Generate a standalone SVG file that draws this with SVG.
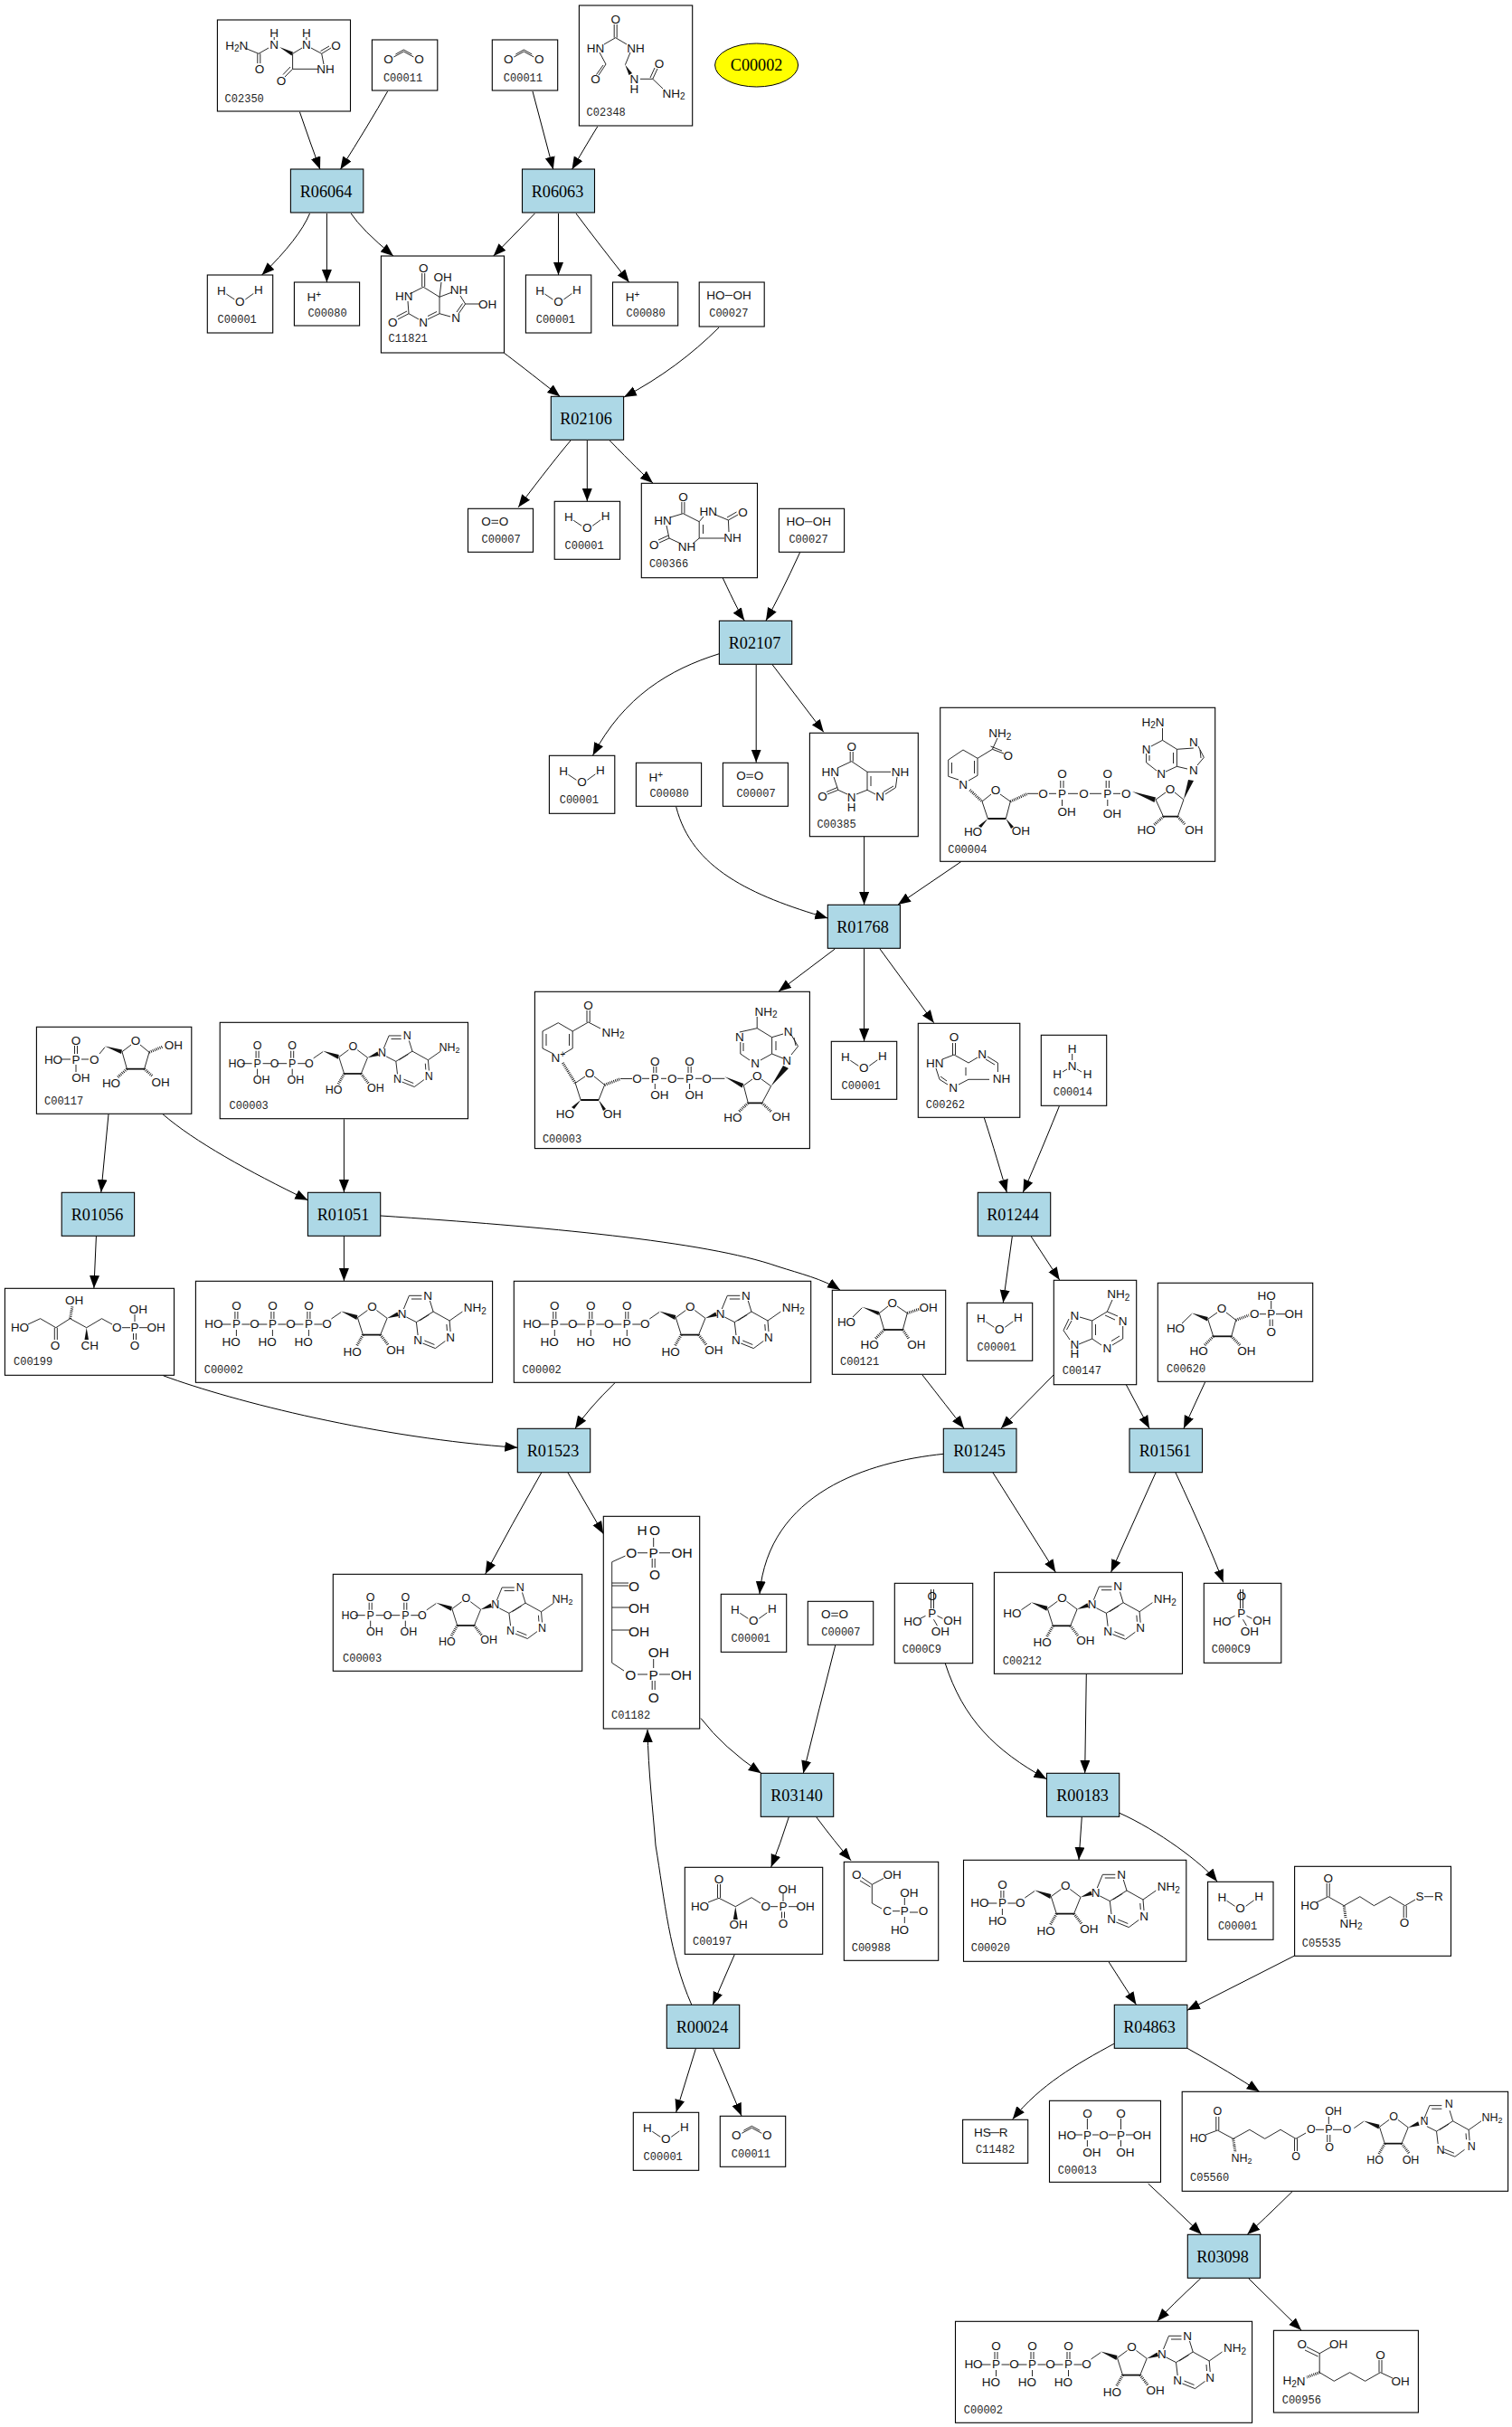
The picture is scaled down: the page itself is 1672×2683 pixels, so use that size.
<svg xmlns="http://www.w3.org/2000/svg" width="1672" height="2683" viewBox="0 0 1672 2683">
<style>
text{font:13.5px "Liberation Sans",Arial,sans-serif;text-anchor:middle;dominant-baseline:central;fill:#111;opacity:.99}
text.c{font:12px "Liberation Mono",monospace;text-anchor:start;dominant-baseline:auto;fill:#222}
text.r{font:18.2px "Liberation Serif",serif;dominant-baseline:auto;fill:#000}
tspan.s{font-size:10px}
.n{fill:#fff;stroke:#000;stroke-width:1.1}
.rx{fill:#ADD8E6;stroke:#000;stroke-width:1.1}
.b{fill:none;stroke:#111;stroke-width:.9}
.k{fill:none;stroke:#111;stroke-width:1.8}
.w{fill:#111;stroke:none}
.h{fill:none;stroke:#111;stroke-width:3;stroke-dasharray:.9 1.2}
.e{fill:none;stroke:#000;stroke-width:1;marker-end:url(#ah)}
.t text{font-size:12.5px}
.t text.c{font-size:12px}
.t tspan.s{font-size:9px}
</style>
<defs>
<marker id="ah" markerUnits="userSpaceOnUse" markerWidth="16" markerHeight="12" refX="14" refY="5.5" orient="auto"><path d="M0,0L14,5.5L0,11z" fill="#000"/></marker>
<path id="h2o" class="b" d="M21,21L30,27M42,27L51,20.5"/>
<path id="co2" class="b" d="M24,19L35,13L46,19M26,16L35,11L44,16"/>
<path id="P" class="b" d="M-1.5,-14V-6M1.5,-14V-6M0,6V13M-17,0H-6M6,0H15"/>
<g id="ado">
<path class="b" d="M5,-6L15.7,-13.4M34,-7.4L45,-15.5M55,-15.5L66.7,-6.7M34,-7.4L40,11.6M59.3,11.6L66.7,-6.7M85,-17L91,-31.7H105M93.5,-28H105M114,-26L117.7,-14L99,-2.4M113,-10.5L102.5,-4M88,-8L99,-2.4L100.7,12M106,21L120,26.6M108,18L119,22.5M120,26.6L131,18.5M136.7,8L135.7,-4M133,7L132.5,0M135.7,-4L117.7,-14M135.7,-4L150,-14"/>
<path class="k" d="M40,11.6H59.3"/>
<path class="w" d="M15.7,-14.4L34,-9.9L33,-5ZM66.7,-6.7L78,-13.5L79.5,-9Z"/>
<path class="h" d="M40,11.6L33,24M59.3,11.6L68,23"/>
</g>
<path id="pi" class="b" d="M40,6.7V28M43,6.7V28M34,36L28,39M47,36L53,39M43,40L47,47"/>
</defs>

<g id="connectors">
<path class="e" d="M331.4,123.7Q343.3,158.5 354,187.3"/>
<path class="e" d="M428.6,101Q408.9,135.8 376.4,187.3"/>
<path class="e" d="M589,101L611.8,187.3"/>
<path class="e" d="M660.7,140Q650.6,156.3 632.5,187.3"/>
<path class="e" d="M342.5,236Q331.2,263.4 289.6,304"/>
<path class="e" d="M361.4,236V312"/>
<path class="e" d="M388.2,236Q399.8,253.9 435,283"/>
<path class="e" d="M591.4,236L545.7,283"/>
<path class="e" d="M617.5,236V304"/>
<path class="e" d="M637,236Q659.4,266 695.7,312"/>
<path class="e" d="M557.5,390.3Q572,401 619.3,438.3"/>
<path class="e" d="M795,362C765,392 730,418 690,439"/>
<path class="e" d="M631,487Q611.9,509.5 573.2,560.7"/>
<path class="e" d="M649.3,487V554"/>
<path class="e" d="M674.3,487Q709,522.9 722,534"/>
<path class="e" d="M799.3,639Q817.3,677.5 823.2,686"/>
<path class="e" d="M884.6,610.7Q862.8,658.2 847,686"/>
<path class="e" d="M795.4,722.7C740,740 690,770 655.6,835"/>
<path class="e" d="M836.2,735V842.7"/>
<path class="e" d="M854.3,735L910.8,809.3"/>
<path class="e" d="M747.7,892C765,960 830,990 915.3,1015"/>
<path class="e" d="M955.6,925V1000"/>
<path class="e" d="M1062.6,952.7L993,1000"/>
<path class="e" d="M923.3,1049L861,1096"/>
<path class="e" d="M955.6,1049V1151"/>
<path class="e" d="M973,1049L1032.7,1130.7"/>
<path class="e" d="M1088.3,1235.7Q1097,1262 1113.3,1318"/>
<path class="e" d="M1171.3,1223Q1142,1295 1131.3,1318"/>
<path class="e" d="M1119.3,1367L1109.3,1440"/>
<path class="e" d="M1140.3,1367L1171.7,1415"/>
<path class="e" d="M1165,1520L1107,1579"/>
<path class="e" d="M1245.3,1530.7L1271,1579"/>
<path class="e" d="M1332.7,1527.7L1309,1579"/>
<path class="e" d="M1020,1520Q1048,1556 1066,1579"/>
<path class="e" d="M421,1344C600,1356 780,1372 860,1400C885,1408 910,1414 929,1426"/>
<path class="e" d="M120,1231.7L111.8,1318"/>
<path class="e" d="M180,1231.7C215,1262 275,1295 340.4,1326.7"/>
<path class="e" d="M380.4,1237.3V1318"/>
<path class="e" d="M106.4,1366.7L103.9,1424"/>
<path class="e" d="M380.4,1366.7V1416"/>
<path class="e" d="M180.4,1520.7C260,1550 420,1590 572.3,1600.3"/>
<path class="e" d="M680,1528.7Q650,1558 636,1579.3"/>
<path class="e" d="M598.7,1628Q566,1685 536.7,1740"/>
<path class="e" d="M628,1628L667.3,1695.7"/>
<path class="e" d="M1043.3,1607.3C960,1616 850,1650 840,1762"/>
<path class="e" d="M1098,1628L1167.3,1738"/>
<path class="e" d="M1278,1628L1228.6,1738"/>
<path class="e" d="M1300,1628Q1336,1705 1352.7,1749.3"/>
<path class="e" d="M775,1899.5Q800,1932 841.7,1960.3"/>
<path class="e" d="M923.7,1819Q906,1888 888.3,1960.3"/>
<path class="e" d="M1045.3,1839C1065,1900 1100,1935 1157.3,1966.7"/>
<path class="e" d="M1201.3,1850.7L1199.7,1960"/>
<path class="e" d="M872.3,2008.7Q863,2038 852.7,2064"/>
<path class="e" d="M902.7,2008.7Q923,2036 941,2056.7"/>
<path class="e" d="M1196.3,2008.7L1193,2056"/>
<path class="e" d="M1238,2004.3C1280,2023 1330,2060 1346,2080"/>
<path class="e" d="M812.3,2160.7L788.3,2216"/>
<path class="e" d="M764.7,2216C740,2160 735,2100 725,2040C722,2000 717,1960 716,1912"/>
<path class="e" d="M769.3,2265L747.7,2335"/>
<path class="e" d="M788.7,2265Q803,2298 820,2339"/>
<path class="e" d="M1226.2,2169L1256.4,2216"/>
<path class="e" d="M1431,2162.3L1312.9,2222.3"/>
<path class="e" d="M1231.9,2259.3C1190,2282 1150,2305 1119.8,2342.7"/>
<path class="e" d="M1312.9,2264.3Q1362,2292 1392.7,2312.3"/>
<path class="e" d="M1269.7,2414Q1302,2444 1328.6,2470"/>
<path class="e" d="M1429,2422.7Q1395,2456 1379.4,2470"/>
<path class="e" d="M1327.8,2518.7Q1294,2550 1279.8,2566"/>
<path class="e" d="M1380.6,2518.7L1439,2576"/>
</g>

<g id="C00002-ellipse"><ellipse cx="836.6" cy="72" rx="46" ry="24" fill="#ff0" stroke="#000"/><text class="r" x="836.6" y="78">C00002</text></g>

<g id="R06064"><rect class="rx" x="321.4" y="187" width="80.4" height="48"/><text class="r" x="360.5" y="217.5">R06064</text></g>
<g id="R06063"><rect class="rx" x="577.5" y="187" width="80" height="48"/><text class="r" x="616.5" y="217.5">R06063</text></g>
<g id="R02106"><rect class="rx" x="609.3" y="438.3" width="80.3" height="48"/><text class="r" x="648" y="468.8">R02106</text></g>
<g id="R02107"><rect class="rx" x="795.4" y="686.3" width="80.3" height="48"/><text class="r" x="834.5" y="716.8">R02107</text></g>
<g id="R01768"><rect class="rx" x="915.3" y="1000.3" width="80.1" height="48"/><text class="r" x="954" y="1030.8">R01768</text></g>
<g id="R01056"><rect class="rx" x="68.2" y="1318.3" width="80.4" height="48"/><text class="r" x="107.5" y="1348.8">R01056</text></g>
<g id="R01051"><rect class="rx" x="340.4" y="1318.3" width="80.3" height="48"/><text class="r" x="379.5" y="1348.8">R01051</text></g>
<g id="R01244"><rect class="rx" x="1081.3" y="1318.3" width="80.4" height="48"/><text class="r" x="1120" y="1348.8">R01244</text></g>
<g id="R01523"><rect class="rx" x="572.3" y="1579.3" width="80.4" height="48.4"/><text class="r" x="611.5" y="1610">R01523</text></g>
<g id="R01245"><rect class="rx" x="1043.3" y="1579.3" width="80.7" height="48.4"/><text class="r" x="1083" y="1610">R01245</text></g>
<g id="R01561"><rect class="rx" x="1249" y="1579.3" width="80.5" height="48.4"/><text class="r" x="1288.5" y="1610">R01561</text></g>
<g id="R03140"><rect class="rx" x="841.3" y="1960.3" width="80.4" height="48"/><text class="r" x="881" y="1991">R03140</text></g>
<g id="R00183"><rect class="rx" x="1157.5" y="1960.3" width="80.2" height="48"/><text class="r" x="1197" y="1991">R00183</text></g>
<g id="R00024"><rect class="rx" x="737.3" y="2216.3" width="80.4" height="48"/><text class="r" x="776.5" y="2247">R00024</text></g>
<g id="R04863"><rect class="rx" x="1232.3" y="2216.3" width="80.6" height="48"/><text class="r" x="1271" y="2247">R04863</text></g>
<g id="R03098"><rect class="rx" x="1313.3" y="2470.3" width="80.2" height="48"/><text class="r" x="1352" y="2501">R03098</text></g>

<!-- water -->
<g id="C00001-a" transform="translate(229.3,304)"><rect class="n" width="72.4" height="64"/><use href="#h2o"/><text x="15.7" y="17.5">H</text><text x="36" y="29.5">O</text><text x="56.5" y="16">H</text><text class="c" x="11.3" y="53">C00001</text></g>
<g id="C00001-b" transform="translate(581.4,304)"><rect class="n" width="72.4" height="64"/><use href="#h2o"/><text x="15.7" y="17.5">H</text><text x="36" y="29.5">O</text><text x="56.5" y="16">H</text><text class="c" x="11.3" y="53">C00001</text></g>
<g id="C00001-c" transform="translate(613.2,554.3)"><rect class="n" width="72.4" height="64"/><use href="#h2o"/><text x="15.7" y="17.5">H</text><text x="36" y="29.5">O</text><text x="56.5" y="16">H</text><text class="c" x="11.3" y="53">C00001</text></g>
<g id="C00001-d" transform="translate(607.4,835.3)"><rect class="n" width="72.4" height="64"/><use href="#h2o"/><text x="15.7" y="17.5">H</text><text x="36" y="29.5">O</text><text x="56.5" y="16">H</text><text class="c" x="11.3" y="53">C00001</text></g>
<g id="C00001-e" transform="translate(919.3,1151.3)"><rect class="n" width="72.4" height="64"/><use href="#h2o"/><text x="15.7" y="17.5">H</text><text x="36" y="29.5">O</text><text x="56.5" y="16">H</text><text class="c" x="11.3" y="53">C00001</text></g>
<g id="C00001-f" transform="translate(1069.3,1440.3)"><rect class="n" width="72.4" height="64"/><use href="#h2o"/><text x="15.7" y="17.5">H</text><text x="36" y="29.5">O</text><text x="56.5" y="16">H</text><text class="c" x="11.3" y="53">C00001</text></g>
<g id="C00001-g" transform="translate(797.3,1762.3)"><rect class="n" width="72.4" height="64"/><use href="#h2o"/><text x="15.7" y="17.5">H</text><text x="36" y="29.5">O</text><text x="56.5" y="16">H</text><text class="c" x="11.3" y="53">C00001</text></g>
<g id="C00001-h" transform="translate(1335.6,2080.3)"><rect class="n" width="72.4" height="64"/><use href="#h2o"/><text x="15.7" y="17.5">H</text><text x="36" y="29.5">O</text><text x="56.5" y="16">H</text><text class="c" x="11.3" y="53">C00001</text></g>
<g id="C00001-i" transform="translate(700.3,2335.3)"><rect class="n" width="72.4" height="64"/><use href="#h2o"/><text x="15.7" y="17.5">H</text><text x="36" y="29.5">O</text><text x="56.5" y="16">H</text><text class="c" x="11.3" y="53">C00001</text></g>

<!-- CO2 -->
<g id="C00011-a" transform="translate(411.4,44)"><rect class="n" width="72.4" height="56"/><use href="#co2"/><text x="18" y="21.7">O</text><text x="52" y="21.7">O</text><text class="c" x="12.5" y="45.5">C00011</text></g>
<g id="C00011-b" transform="translate(544.3,44)"><rect class="n" width="72.4" height="56"/><use href="#co2"/><text x="18" y="21.7">O</text><text x="52" y="21.7">O</text><text class="c" x="12.5" y="45.5">C00011</text></g>
<g id="C00011-c" transform="translate(796.3,2339.3)"><rect class="n" width="72.4" height="56"/><use href="#co2"/><text x="18" y="21.7">O</text><text x="52" y="21.7">O</text><text class="c" x="12.5" y="45.5">C00011</text></g>

<!-- H+ -->
<g id="C00080-a" transform="translate(325.4,312)"><rect class="n" width="72.2" height="48"/><text x="22" y="16.5">H<tspan class="s" dy="-4">+</tspan></text><text class="c" x="15" y="38">C00080</text></g>
<g id="C00080-b" transform="translate(677.5,312)"><rect class="n" width="72.2" height="48"/><text x="22" y="16.5">H<tspan class="s" dy="-4">+</tspan></text><text class="c" x="15" y="38">C00080</text></g>
<g id="C00080-c" transform="translate(703.4,843.3)"><rect class="n" width="72.2" height="48"/><text x="22" y="16.5">H<tspan class="s" dy="-4">+</tspan></text><text class="c" x="15" y="38">C00080</text></g>

<!-- O2 -->
<g id="C00007-a" transform="translate(517.5,562.3)"><rect class="n" width="72" height="48"/><path class="b" d="M26,13H33.5M26,16H33.5"/><text x="20" y="14.5">O</text><text x="39.5" y="14.5">O</text><text class="c" x="15" y="38">C00007</text></g>
<g id="C00007-b" transform="translate(799.4,843.3)"><rect class="n" width="72" height="48"/><path class="b" d="M26,13H33.5M26,16H33.5"/><text x="20" y="14.5">O</text><text x="39.5" y="14.5">O</text><text class="c" x="15" y="38">C00007</text></g>
<g id="C00007-c" transform="translate(893.3,1770.3)"><rect class="n" width="72.4" height="48"/><path class="b" d="M26,13H33.5M26,16H33.5"/><text x="20" y="14.5">O</text><text x="39.5" y="14.5">O</text><text class="c" x="15" y="38">C00007</text></g>

<!-- H2O2 -->
<g id="C00027-a" transform="translate(773.2,312)"><rect class="n" width="72" height="49"/><path class="b" d="M28.5,14.5H37"/><text x="18.2" y="14.5">HO</text><text x="47.5" y="14.5">OH</text><text class="c" x="11" y="38">C00027</text></g>
<g id="C00027-b" transform="translate(861.4,562.3)"><rect class="n" width="72.2" height="48"/><path class="b" d="M28.5,14.5H37"/><text x="18.2" y="14.5">HO</text><text x="47.5" y="14.5">OH</text><text class="c" x="11" y="38">C00027</text></g>

<!-- C02350 -->
<g id="C02350"><rect class="n" x="240.4" y="22" width="147.1" height="101"/>
<path class="b" d="M273,54L286,59.3L297,53M323.6,59.3L334,53M344,53L355.7,59.3L366,53M354.5,56.5L364,51M355.7,59.3L358,71M323.6,76.3H352M323.6,59.3V76.3L315,85M321,74L313,82.5M284.8,59.3V70M287.8,59.3V70M303.2,41V44M338.9,41V44"/>
<path class="w" d="M309,52L324,57.5L322.5,61.5Z"/>
<text x="303.2" y="36.7">H</text><text x="303.2" y="49.3">N</text><text x="338.9" y="36.7">H</text><text x="338.9" y="49.3">N</text><text x="371.4" y="50">O</text><text x="360" y="76.3">NH</text><text x="311" y="89">O</text><text x="287" y="76.3">O</text><text x="261.8" y="50">H<tspan class="s" dy="3">2</tspan><tspan dy="-3">N</tspan></text>
<text class="c" x="248.6" y="112.7">C02350</text></g>

<!-- C02348 -->
<g id="C02348"><rect class="n" x="640.4" y="6" width="125.3" height="133"/>
<path class="b" d="M679.2,27V41.7M682.2,27V41.7M680.7,41.7L668,49M680.7,41.7L693,49M663,58L670,71L662,83M667,72L659.5,82.5M697,58L691.4,71.7M708,87.3H721.8L727,76M719,86L724,75M721.8,87.3L733,98"/>
<path class="w" d="M691.4,71.7L699,81L695.5,83Z"/>
<text x="680.7" y="21">O</text><text x="658.6" y="53.3">HN</text><text x="703" y="53.3">NH</text><text x="658.6" y="87.3">O</text><text x="701.4" y="87.3">N</text><text x="701.4" y="98.7">H</text><text x="729" y="70">O</text><text x="745" y="103.3">NH<tspan class="s" dy="3">2</tspan></text>
<text class="c" x="648.6" y="128">C02348</text></g>

<!-- C11821 -->
<g id="C11821"><rect class="n" x="421.4" y="283" width="136.1" height="107"/>
<path class="b" d="M466.7,302V317M469.7,302V317M468.2,317.3L453,325M451,333L452,346.7L440,353M450,344L438.5,350M452,346.7L463,353M473,353L486,346.7M473,349.5L483,344.5M486,346.7V328.3L468.2,317.3M486,328.3L488,312M486,328.3L500,323M509,327L514.6,336L507,347M511.5,335.5L505,345M498,350L486,346.7M514.6,336H530"/>
<text x="468.2" y="296.7">O</text><text x="489.6" y="306.7">OH</text><text x="507.5" y="320.7">NH</text><text x="539" y="336">OH</text><text x="504" y="351.7">N</text><text x="468.2" y="356">N</text><text x="446.8" y="327.3">HN</text><text x="434.3" y="356">O</text>
<text class="c" x="429.6" y="377.7">C11821</text></g>

<!-- C00366 -->
<g id="C00366"><rect class="n" x="709.3" y="534.3" width="128.2" height="104.4"/>
<path class="b" d="M753.9,555V567.7M756.9,555V567.7M755.4,567.7L741,572M737,581L740,595L729,600M739,592L728,597M740,595L753,601M766,601L773.2,595V576.7L755.4,567.7M777.5,590V580M773.2,576.7L778,571M791,569L805.4,575L816,569M804,572L814.5,566M805.4,575L806,588M773.2,595H801"/>
<text x="755.4" y="549">O</text><text x="732.9" y="575">HN</text><text x="783.2" y="565.7">HN</text><text x="821.4" y="566">O</text><text x="810" y="594.3">NH</text><text x="759.6" y="604">NH</text><text x="723.2" y="602.7">O</text>
<text class="c" x="717.9" y="626.7">C00366</text></g>

<!-- C00385 -->
<g id="C00385"><rect class="n" x="895.4" y="810.3" width="119.9" height="114.4"/>
<path class="b" d="M940.2,831V841.7M943.2,831V841.7M941.7,841.7L926,849M922,859L926.8,873.3L915,878M926,870.5L914,875.5M926.8,873.3L937,878M947,878L959,873.3V853.3L941.7,841.7M963,869V858M959,853.3H985M992,859L990.4,870.7L979,878M988,869L977,875.5M968,878L959,873.3"/>
<text x="941.7" y="825">O</text><text x="918.3" y="853.3">HN</text><text x="995.4" y="853.3">NH</text><text x="973" y="880.7">N</text><text x="941.7" y="881.7">N</text><text x="941.7" y="892.7">H</text><text x="909.4" y="880.7">O</text>
<text class="c" x="903.4" y="915">C00385</text></g>

<!-- NADH -->
<g id="C00004"><rect class="n" x="1039.7" y="782.3" width="304" height="170"/>
<path class="b" d="M1060,862L1048.7,858.3V840L1065,829L1081,838.3V857.3L1071,863M1052.5,855V843M1077.5,855V841M1081,838.3L1097.4,828.3L1110,833M1097.4,828.3L1103,816M1095.5,825L1108,830M1086,886L1096,878M1106,878L1117.3,886L1112.3,905M1086,886L1092.4,905M1136,877.3H1148M1172.8,863V871M1176,863V871M1174.5,884V891M1160,877.3H1168M1181,877.3H1192M1205,877.3H1218M1223.2,863V871M1226.4,863V871M1224.8,884V891M1231,877.3H1239M1278,884L1289,876M1299,876L1308.9,884L1302.4,902.7M1278,884L1286.5,902.7M1319.8,827L1301.4,828.3M1325,825L1331.3,837.3L1324,846M1327,829L1328,838M1301.4,828.3V847.3L1313,850M1297.5,832V844M1301.4,828.3L1285.5,818.3L1273,825M1285.5,818.3V805M1267.6,833V843L1279,852M1289,853L1301.4,847.3M1271,835V841"/>
<path class="k" d="M1092.4,905H1112.3M1286.5,902.7H1302.4"/>
<path class="h" d="M1072.5,873.3L1086,886M1117.3,886L1136,877.5M1286.5,902.7L1276,912M1302.4,902.7L1311,912"/>
<path class="w" d="M1092.4,905L1085,915L1082,913ZM1112.3,905L1121,914L1118,916ZM1252,875L1278,881.5L1276.5,887ZM1308.9,884L1314,862L1320,863Z"/>
<text x="1105.9" y="810.7">NH<tspan class="s" dy="3">2</tspan></text><text x="1114.8" y="835">O</text><text x="1065" y="867.3">N</text><text x="1100.9" y="873.3">O</text><text x="1076" y="919.3">HO</text><text x="1128.8" y="918.3">OH</text><text x="1153.6" y="877.3">O</text><text x="1174.5" y="877.3">P</text><text x="1174.5" y="855">O</text><text x="1179.5" y="897.7">OH</text><text x="1198.4" y="877.3">O</text><text x="1224.8" y="877.3">P</text><text x="1224.8" y="855">O</text><text x="1229.8" y="899">OH</text><text x="1245.2" y="877.3">O</text><text x="1294" y="872.7">O</text><text x="1267.6" y="917.3">HO</text><text x="1320.3" y="917.3">OH</text><text x="1319.8" y="851.7">N</text><text x="1319.8" y="820.7">N</text><text x="1267.6" y="828.3">N</text><text x="1284" y="855.7">N</text><text x="1275" y="798.3">H<tspan class="s" dy="3">2</tspan><tspan dy="-3">N</tspan></text>
<text class="c" x="1048.2" y="943">C00004</text></g>

<!-- NAD+ -->
<g id="C00003-nad"><rect class="n" x="591.4" y="1096.3" width="304" height="173.3"/>
<path class="b" d="M612,1165L600,1159V1140L617.3,1130.7L633.2,1140V1159L623,1165M604,1156V1143M629.5,1156V1143M633.2,1140L650.6,1130L664,1137M649,1117V1130M652.2,1117V1130M636.2,1197.3L647,1190M657,1190L668.6,1199.3L662,1216M636.2,1197.3L642.2,1216M686,1192.5H699M710,1192.3H718M731,1192.3H737M722.8,1179V1186M725.8,1179V1186M724.3,1198V1204M749,1192.3H756M769,1192.3H776M761,1179V1186M764.2,1179V1186M762.6,1198V1204M787,1192.3H801.4M822.3,1200L832,1193M842,1193L852.6,1200.7L842.7,1219.3M822.3,1200L827.3,1219.3M817.8,1141L837.2,1136.7L853.6,1146.7L866,1143M837.2,1136.7V1124M853.6,1146.7V1165L866,1170M858,1151V1161M875,1144L882.5,1156.7L875,1166M878,1147L880,1156M853.6,1165L841,1172M829,1172L818.8,1165V1152M822,1162V1153"/>
<path class="w" d="M801.4,1190.3L822.3,1198L820.5,1202.5ZM852.6,1200.7L866,1178L872,1181Z"/>
<path class="w" d="M642.2,1216L635,1226L632,1224ZM662,1216L670,1226L667,1228Z"/>
<path class="k" d="M642.2,1216H662M827.3,1219.3H842.7"/>
<path class="h" d="M622.3,1175L636.2,1197.3M668.6,1199.3L686,1192.7M827.3,1219.3L817,1229M842.7,1219.3L853,1229"/>
<text x="650.6" y="1111">O</text><text x="678" y="1141">NH<tspan class="s" dy="3">2</tspan></text><text x="617.3" y="1169.3">N<tspan class="s" dy="-4">+</tspan></text><text x="652" y="1186">O</text><text x="624.8" y="1231.7">HO</text><text x="677" y="1231.7">OH</text><text x="704.4" y="1192.3">O</text><text x="724.3" y="1192.3">P</text><text x="724.3" y="1173.3">O</text><text x="729.3" y="1210.7">OH</text><text x="743.2" y="1192.3">O</text><text x="762.6" y="1192.3">P</text><text x="762.6" y="1173.3">O</text><text x="767.6" y="1210.7">OH</text><text x="781.5" y="1192.3">O</text><text x="837.2" y="1189.3">O</text><text x="810.3" y="1235">HO</text><text x="863.6" y="1234">OH</text><text x="870" y="1172.7">N</text><text x="871.5" y="1140">N</text><text x="817.8" y="1146.7">N</text><text x="835.2" y="1175">N</text><text x="847" y="1118.3">NH<tspan class="s" dy="3">2</tspan></text>
<text class="c" x="599.9" y="1263">C00003</text></g>

<!-- C00262 -->
<g id="C00262"><rect class="n" x="1015.3" y="1131.3" width="112.5" height="104"/>
<path class="b" d="M1053.5,1153V1166M1056.5,1153V1166M1055,1166L1042,1171M1055,1166L1071,1175L1081,1169M1092,1168L1103.4,1175V1185M1090,1171L1100,1177M1068,1180V1189M1071,1193.3H1094M1071,1193.3L1060,1199M1048,1199L1039,1193.3L1035,1181M1047,1195L1040,1190"/>
<text x="1055" y="1146.7">O</text><text x="1033.7" y="1175">HN</text><text x="1086" y="1165">N</text><text x="1107.4" y="1192.3">NH</text><text x="1054" y="1202.7">N</text>
<text class="c" x="1023.8" y="1225">C00262</text></g>

<!-- NH3 -->
<g id="C00014"><rect class="n" x="1151.3" y="1144.3" width="72.4" height="78"/>
<path class="b" d="M1185.7,1165V1172M1175,1185L1180,1182M1196,1185L1191,1182"/>
<text x="1185.7" y="1159">H</text><text x="1185.7" y="1178.3">N</text><text x="1169" y="1187.7">H</text><text x="1202.7" y="1187.7">H</text>
<text class="c" x="1164.7" y="1210.7">C00014</text></g>

<!-- C00117 -->
<g id="C00117"><rect class="n" x="40.4" y="1135.3" width="171.4" height="96"/>
<path class="b" d="M82.5,1156V1165M85.5,1156V1165M68,1171H78M90,1171H98M84,1177V1185M110,1165L116,1157.7M135,1162.7L145,1155M155,1155L165,1163.3L159.6,1181.7M135,1162.7L140.4,1181.7"/>
<path class="k" d="M140.4,1181.7H159.6"/>
<path class="w" d="M116,1156.5L135,1160.5L134,1165Z"/>
<path class="h" d="M140.4,1181.7L130,1191M159.6,1181.7L169,1190M165,1163.3L180,1157"/>
<text x="84" y="1150">O</text><text x="84" y="1171">P</text><text x="59" y="1171">HO</text><text x="104.3" y="1171">O</text><text x="89.3" y="1191.7">OH</text><text x="150" y="1150">O</text><text x="123" y="1197.3">HO</text><text x="177.5" y="1196">OH</text><text x="191.8" y="1155">OH</text>
<text class="c" x="49" y="1221">C00117</text></g>

<!-- C00199 -->
<g id="C00199"><rect class="n" x="5.4" y="1424.3" width="187.1" height="96"/>
<path class="b" d="M31,1464L44.6,1457.7L61.8,1467.7L77.5,1457.7L95.7,1467.7L112.5,1457.7L124,1464M60.3,1467.7V1481M63.3,1467.7V1481M135,1467.7H144M154,1467.7H163M149,1453V1461M147.5,1474V1481M150.5,1474V1481"/>
<path class="h" d="M77.5,1457.7L80,1444"/>
<path class="w" d="M95.7,1467.7L93.5,1481H98Z"/>
<text x="22" y="1467.7">HO</text><text x="61" y="1487.7">O</text><text x="82" y="1437.7">OH</text><text x="99.3" y="1487.7">CH</text><text x="129.3" y="1467.7">O</text><text x="149" y="1467.7">P</text><text x="152.9" y="1447.7">OH</text><text x="172.5" y="1467.7">OH</text><text x="149" y="1487.7">O</text>
<text class="c" x="15" y="1509.3">C00199</text></g>

<!-- ADP -->
<g id="C00003-a" class="t" transform="translate(243.2,1130.3)"><rect class="n" width="274.3" height="106.4"/>
<use href="#P" x="41.4" y="45.4"/><use href="#P" x="80" y="45.4"/><use href="#ado" transform="translate(98.6,45.4) scale(.97)"/>
<text x="18.6" y="45.4">HO</text><text x="41.4" y="45.4">P</text><text x="41.4" y="25.4">O</text><text x="46" y="63.7">OH</text><text x="60.4" y="45.4">O</text><text x="80" y="45.4">P</text><text x="80" y="25.4">O</text><text x="83.6" y="63.7">OH</text><text x="98.6" y="45.4">O</text><text x="147.1" y="27">O</text><text x="126" y="74.8">HO</text><text x="172.3" y="72.9">OH</text><text x="179.4" y="34">N</text><text x="207" y="14.7">N</text><text x="253.8" y="27.9">NH<tspan class="s" dy="3">2</tspan></text><text x="231.2" y="59.3">N</text><text x="196.3" y="62.9">N</text>
<text class="c" x="10.4" y="95.7">C00003</text></g>
<g id="C00003-b" class="t" transform="translate(368.3,1740.3)"><rect class="n" width="275.4" height="107"/>
<use href="#P" x="41.4" y="45.4"/><use href="#P" x="80" y="45.4"/><use href="#ado" transform="translate(98.6,45.4) scale(.97)"/>
<text x="18.6" y="45.4">HO</text><text x="41.4" y="45.4">P</text><text x="41.4" y="25.4">O</text><text x="46" y="63.7">OH</text><text x="60.4" y="45.4">O</text><text x="80" y="45.4">P</text><text x="80" y="25.4">O</text><text x="83.6" y="63.7">OH</text><text x="98.6" y="45.4">O</text><text x="147.1" y="27">O</text><text x="126" y="74.8">HO</text><text x="172.3" y="72.9">OH</text><text x="179.4" y="34">N</text><text x="207" y="14.7">N</text><text x="253.8" y="27.9">NH<tspan class="s" dy="3">2</tspan></text><text x="231.2" y="59.3">N</text><text x="196.3" y="62.9">N</text>
<text class="c" x="10.7" y="96.4">C00003</text></g>

<!-- ATP -->
<g id="C00002-a" transform="translate(216.4,1416.3)"><rect class="n" width="328.2" height="112"/>
<use href="#P" x="45" y="47.7"/><use href="#P" x="85" y="47.7"/><use href="#P" x="125" y="47.7"/><use href="#ado" x="145" y="47.7"/>
<text x="20" y="47.7">HO</text><text x="45" y="47.7">P</text><text x="45" y="27.7">O</text><text x="39.3" y="67.7">HO</text><text x="65" y="47.7">O</text><text x="85" y="47.7">P</text><text x="85" y="27.7">O</text><text x="79.3" y="67.7">HO</text><text x="105" y="47.7">O</text><text x="125" y="47.7">P</text><text x="125" y="27.7">O</text><text x="119.3" y="67.7">HO</text><text x="145" y="47.7">O</text><text x="195" y="28.7">O</text><text x="173.3" y="78">HO</text><text x="221" y="76">OH</text><text x="228.3" y="36">N</text><text x="256.7" y="16">N</text><text x="309" y="29.7">NH<tspan class="s" dy="3">2</tspan></text><text x="281.7" y="62">N</text><text x="245.7" y="65.7">N</text>
<text class="c" x="9.3" y="102">C00002</text></g>
<g id="C00002-b" transform="translate(568.3,1416.3)"><rect class="n" width="328.4" height="112"/>
<use href="#P" x="45" y="47.7"/><use href="#P" x="85" y="47.7"/><use href="#P" x="125" y="47.7"/><use href="#ado" x="145" y="47.7"/>
<text x="20" y="47.7">HO</text><text x="45" y="47.7">P</text><text x="45" y="27.7">O</text><text x="39.3" y="67.7">HO</text><text x="65" y="47.7">O</text><text x="85" y="47.7">P</text><text x="85" y="27.7">O</text><text x="79.3" y="67.7">HO</text><text x="105" y="47.7">O</text><text x="125" y="47.7">P</text><text x="125" y="27.7">O</text><text x="119.3" y="67.7">HO</text><text x="145" y="47.7">O</text><text x="195" y="28.7">O</text><text x="173.3" y="78">HO</text><text x="221" y="76">OH</text><text x="228.3" y="36">N</text><text x="256.7" y="16">N</text><text x="309" y="29.7">NH<tspan class="s" dy="3">2</tspan></text><text x="281.7" y="62">N</text><text x="245.7" y="65.7">N</text>
<text class="c" x="9.3" y="102">C00002</text></g>
<g id="C00002-c" transform="translate(1056.5,2566.3)"><rect class="n" width="328.1" height="112"/>
<use href="#P" x="45" y="47.7"/><use href="#P" x="85" y="47.7"/><use href="#P" x="125" y="47.7"/><use href="#ado" x="145" y="47.7"/>
<text x="20" y="47.7">HO</text><text x="45" y="47.7">P</text><text x="45" y="27.7">O</text><text x="39.3" y="67.7">HO</text><text x="65" y="47.7">O</text><text x="85" y="47.7">P</text><text x="85" y="27.7">O</text><text x="79.3" y="67.7">HO</text><text x="105" y="47.7">O</text><text x="125" y="47.7">P</text><text x="125" y="27.7">O</text><text x="119.3" y="67.7">HO</text><text x="145" y="47.7">O</text><text x="195" y="28.7">O</text><text x="173.3" y="78">HO</text><text x="221" y="76">OH</text><text x="228.3" y="36">N</text><text x="256.7" y="16">N</text><text x="309" y="29.7">NH<tspan class="s" dy="3">2</tspan></text><text x="281.7" y="62">N</text><text x="245.7" y="65.7">N</text>
<text class="c" x="9.3" y="102">C00002</text></g>

<!-- AMP -->
<g id="C00020" transform="translate(1065.5,2056.3)"><rect class="n" width="246.3" height="112"/>
<use href="#P" x="42.9" y="47.7"/><use href="#ado" x="62.8" y="47.7"/>
<text x="17.9" y="47.7">HO</text><text x="42.9" y="47.7">P</text><text x="42.9" y="27.7">O</text><text x="37.5" y="67.7">HO</text><text x="62.8" y="47.7">O</text><text x="112.8" y="28.7">O</text><text x="91.1" y="78">HO</text><text x="138.8" y="76">OH</text><text x="146.1" y="36">N</text><text x="174.5" y="16">N</text><text x="226.8" y="29.7">NH<tspan class="s" dy="3">2</tspan></text><text x="199.5" y="62">N</text><text x="163.5" y="65.7">N</text>
<text class="c" x="8.2" y="101">C00020</text></g>

<!-- adenosine -->
<g id="C00212" transform="translate(1099.4,1738.3)"><rect class="n" width="208.1" height="112"/>
<use href="#ado" x="25" y="47.4"/>
<text x="20" y="45">HO</text><text x="75" y="28.4">O</text><text x="53.3" y="77.7">HO</text><text x="101" y="75.7">OH</text><text x="108.3" y="35.7">N</text><text x="136.7" y="15.7">N</text><text x="189" y="29.4">NH<tspan class="s" dy="3">2</tspan></text><text x="161.7" y="61.7">N</text><text x="125.7" y="65.4">N</text>
<text class="c" x="9.4" y="101.7">C00212</text></g>

<!-- C00121 -->
<g id="C00121"><rect class="n" x="920.3" y="1426.3" width="125.4" height="93"/>
<path class="b" d="M943,1456L953.3,1445.7M972.3,1451.7L982,1444M992,1444L1003.3,1451.7L998.3,1470M972.3,1451.7L977.7,1470"/>
<path class="k" d="M977.7,1470H998.3"/>
<path class="w" d="M953.3,1444.7L972.3,1450L971.5,1454Z"/>
<path class="h" d="M977.7,1470L968,1480M998.3,1470L1005,1480M1003.3,1451.7L1017,1447"/>
<text x="936" y="1461.7">HO</text><text x="986.7" y="1440">O</text><text x="961.7" y="1486.7">HO</text><text x="1013.3" y="1486.7">OH</text><text x="1026.7" y="1445.7">OH</text>
<text class="c" x="929" y="1509">C00121</text></g>

<!-- adenine -->
<g id="C00147"><rect class="n" x="1165.3" y="1415.3" width="91.4" height="115.4"/>
<path class="b" d="M1224.3,1450L1230,1437M1224.3,1450L1236,1455M1222,1454L1233,1459M1241.7,1466V1480L1230,1487M1238,1477L1229,1482.5M1218,1487L1207.7,1480V1460L1224.3,1450M1211.5,1476V1464M1207.7,1460L1194,1456M1182,1458L1176,1470.7L1183,1481M1185,1460L1179.5,1470M1193,1486L1207.7,1480"/>
<text x="1236.7" y="1430.7">NH<tspan class="s" dy="3">2</tspan></text><text x="1241.7" y="1460">N</text><text x="1224.3" y="1490">N</text><text x="1188.3" y="1454">N</text><text x="1188.3" y="1486">N</text><text x="1188.3" y="1496.7">H</text>
<text class="c" x="1174.7" y="1519.3">C00147</text></g>

<!-- C00620 -->
<g id="C00620"><rect class="n" x="1280.3" y="1418.3" width="171.4" height="109"/>
<path class="b" d="M1307,1463L1317.7,1452.7M1335.7,1458.3L1346,1451M1356,1451L1366.7,1459.3L1361.7,1477.3M1335.7,1458.3L1341.7,1477.3M1393,1452.7H1400M1411,1452.7H1421M1405.7,1438V1447M1404.2,1458.5V1466M1407.2,1458.5V1466"/>
<path class="k" d="M1341.7,1477.3H1361.7"/>
<path class="w" d="M1317.7,1451.5L1335.7,1456L1335,1460.5Z"/>
<path class="h" d="M1341.7,1477.3L1332,1487M1361.7,1477.3L1371,1487M1366.7,1459.3L1381,1454"/>
<text x="1300" y="1468.3">HO</text><text x="1351" y="1446.7">O</text><text x="1325.7" y="1493.3">HO</text><text x="1378.3" y="1493.3">OH</text><text x="1387.3" y="1452.7">O</text><text x="1405.7" y="1452.7">P</text><text x="1400.7" y="1432.7">HO</text><text x="1430.7" y="1452.7">OH</text><text x="1405.7" y="1472.3">O</text>
<text class="c" x="1290" y="1516.7">C00620</text></g>

<!-- C01182 -->
<g id="C01182"><rect class="n" x="667.3" y="1676.3" width="106.4" height="234.7"/>
<path class="b" d="M691.5,1720L676.7,1726.7V1838.3L690,1847M705,1716.7H716M729,1716.7H741M722.7,1700V1710M721.2,1723V1733M724.2,1723V1733M676.7,1750H695M676.7,1753H695M676.7,1777H696M676.7,1802H696M705,1851H716M729,1851H741M722.7,1834V1844M721.2,1858V1868M724.2,1858V1868"/>
<text x="710" y="1691.7" style="font-size:15.5px">H</text><text x="724" y="1691.7" style="font-size:15.5px">O</text><text x="722.7" y="1716.7" style="font-size:15.5px">P</text><text x="698.3" y="1716.7" style="font-size:15.5px">O</text><text x="754" y="1716.7" style="font-size:15.5px">OH</text><text x="724" y="1740.7" style="font-size:15.5px">O</text><text x="701" y="1753.3" style="font-size:15.5px">O</text><text x="706.7" y="1777.7" style="font-size:15.5px">OH</text><text x="706.7" y="1803.3" style="font-size:15.5px">OH</text><text x="697.3" y="1851" style="font-size:15.5px">O</text><text x="722.7" y="1851" style="font-size:15.5px">P</text><text x="728.3" y="1826.7" style="font-size:15.5px">OH</text><text x="753.3" y="1851" style="font-size:15.5px">OH</text><text x="722.7" y="1876" style="font-size:15.5px">O</text>
<text class="c" x="676" y="1900">C01182</text></g>

<!-- phosphate -->
<g id="C00009-a" transform="translate(989.3,1750.3)"><rect class="n" width="86.4" height="88.4"/><use href="#pi" x="0.2" y="0"/>
<text x="41.4" y="14.7">O</text><text x="41.4" y="33.7">P</text><text x="20" y="42">HO</text><text x="64" y="41.4">OH</text><text x="50.7" y="53.7">OH</text><text class="c" x="8.4" y="77">C000C9</text></g>
<g id="C00009-b" transform="translate(1331.3,1750.3)"><rect class="n" width="85.5" height="88"/><use href="#pi" x="0.2" y="0"/>
<text x="41.4" y="14.7">O</text><text x="41.4" y="33.7">P</text><text x="20" y="42">HO</text><text x="64" y="41.4">OH</text><text x="50.7" y="53.7">OH</text><text class="c" x="8.4" y="77">C000C9</text></g>

<!-- C00197 -->
<g id="C00197"><rect class="n" x="757.3" y="2064.3" width="152.4" height="96"/>
<path class="b" d="M793.5,2083V2098M796.5,2083V2098M783,2103L795,2098.3L813.3,2107.7L831,2097.7L841,2104M852,2107.7H860M872,2107.7H882M866,2093V2102M864.5,2113.5V2120.5M867.5,2113.5V2120.5"/>
<path class="w" d="M813.3,2107.7L810.8,2122H815.8Z"/>
<text x="795" y="2077.3">O</text><text x="774" y="2107.7">HO</text><text x="816.7" y="2127.7">OH</text><text x="846.7" y="2107.7">O</text><text x="866" y="2107.7">P</text><text x="870.7" y="2088.7">OH</text><text x="890.7" y="2107.7">OH</text><text x="866" y="2126.7">O</text>
<text class="c" x="766" y="2150">C00197</text></g>

<!-- C00988 -->
<g id="C00988"><rect class="n" x="933.3" y="2058.3" width="104.4" height="109"/>
<path class="b" d="M953,2075.5L964.3,2083.3L977,2076.5M951,2079L962.5,2086M964.3,2083.3V2104L975,2110M987,2112.7H995M1006,2114H1015M1000.3,2098V2106M1000.3,2119V2126"/>
<text x="947.3" y="2072.7">O</text><text x="986.7" y="2072.7">OH</text><text x="981" y="2112.7">C</text><text x="1000.3" y="2112.7">P</text><text x="1005.3" y="2092">OH</text><text x="1021" y="2112.7">O</text><text x="995" y="2133.3">HO</text>
<text class="c" x="941.7" y="2156.7">C00988</text></g>

<!-- C05535 -->
<g id="C05535"><rect class="n" x="1431.6" y="2063.3" width="172.9" height="99"/>
<path class="b" d="M1467.2,2082V2096.7M1470.2,2082V2096.7M1456,2103L1468.7,2096.7L1486.2,2106.7L1503.8,2096.7L1519.4,2106.7L1537,2096.7L1553.7,2106.7L1565,2100M1552.2,2106.7V2120M1555.2,2106.7V2120M1575,2096.7H1585"/>
<path class="h" d="M1486.2,2106.7L1488,2120"/>
<text x="1468.7" y="2076.7">O</text><text x="1448.4" y="2106.7">HO</text><text x="1494" y="2126">NH<tspan class="s" dy="3">2</tspan></text><text x="1553" y="2125.7">O</text><text x="1570" y="2096.7">S</text><text x="1590.8" y="2096.7">R</text>
<text class="c" x="1439.8" y="2152">C05535</text></g>

<!-- C11482 -->
<g id="C11482"><rect class="n" x="1064.6" y="2343.3" width="72.1" height="48"/><path class="b" d="M1093.6,2357.7H1105.3"/><text x="1086.4" y="2357.7">HS</text><text x="1109.7" y="2357.7">R</text><text class="c" x="1079" y="2380">C11482</text></g>

<!-- C00013 -->
<g id="C00013"><rect class="n" x="1160.5" y="2322.3" width="123" height="90"/>
<path class="b" d="M1188,2360H1197M1208,2360H1215M1226,2360H1234M1245,2360H1254M1202.4,2342V2354M1202.4,2366V2373M1239.5,2342V2354M1239.5,2366V2373"/>
<text x="1179.9" y="2360">HO</text><text x="1202.4" y="2360">P</text><text x="1202.4" y="2336.7">O</text><text x="1207.3" y="2379">OH</text><text x="1220.6" y="2360">O</text><text x="1239.5" y="2360">P</text><text x="1239.5" y="2336.7">O</text><text x="1244.4" y="2379">OH</text><text x="1262.9" y="2360">OH</text>
<text class="c" x="1169.8" y="2402.7">C00013</text></g>

<!-- C05560 -->
<g id="C05560" class="t"><rect class="n" x="1307.2" y="2312.3" width="360.4" height="110"/>
<path class="b" d="M1344.8,2340V2355M1347.8,2340V2355M1333,2360L1346.3,2355L1363.7,2364.3L1381.8,2354.3L1398.7,2364.3L1416,2354.3L1433,2364.3L1444,2358M1431.5,2364.3V2378M1434.5,2364.3V2378M1455,2354.3H1464M1474,2354.3H1484M1469.3,2340V2348M1467.8,2360V2368M1470.8,2360V2368"/>
<path class="h" d="M1363.7,2364.3L1366,2379"/>
<use href="#ado" transform="translate(1492.5,2358.4) scale(.97)"/>
<text x="1346.3" y="2334.3">O</text><text x="1325" y="2364.3">HO</text><text x="1373" y="2385.7">NH<tspan class="s" dy="3">2</tspan></text><text x="1433" y="2384.3">O</text><text x="1449.9" y="2354.3">O</text><text x="1469.3" y="2354.3">P</text><text x="1474.5" y="2334.3">OH</text><text x="1470" y="2374.3">O</text><text x="1489.4" y="2354.3">O</text><text x="1541" y="2340">O</text><text x="1520.5" y="2387.7">HO</text><text x="1560" y="2387.7">OH</text><text x="1574.9" y="2345">N</text><text x="1602.3" y="2325.7">N</text><text x="1650" y="2341">NH<tspan class="s" dy="3">2</tspan></text><text x="1627.3" y="2372.7">N</text><text x="1593" y="2376.7">N</text>
<text class="c" x="1316" y="2410.7">C05560</text></g>

<!-- C00956 -->
<g id="C00956"><rect class="n" x="1408.4" y="2576.3" width="160" height="90.7"/>
<path class="b" d="M1445,2594.5L1459.2,2601.7L1472,2594.5M1443,2598L1457.5,2605M1459.2,2601.7V2622.7L1475.3,2632.3L1492.6,2622.7L1509.6,2632.3L1526.5,2622.7L1540,2629M1525,2609V2622.7M1528,2609V2622.7"/>
<path class="h" d="M1459.2,2622.7L1445,2628"/>
<text x="1439.8" y="2591">O</text><text x="1480.1" y="2591">OH</text><text x="1431" y="2631.7">H<tspan class="s" dy="3">2</tspan><tspan dy="-3">N</tspan></text><text x="1526.5" y="2603.3">O</text><text x="1548.7" y="2632.3">OH</text>
<text class="c" x="1417.7" y="2656.7">C00956</text></g>
</svg>
